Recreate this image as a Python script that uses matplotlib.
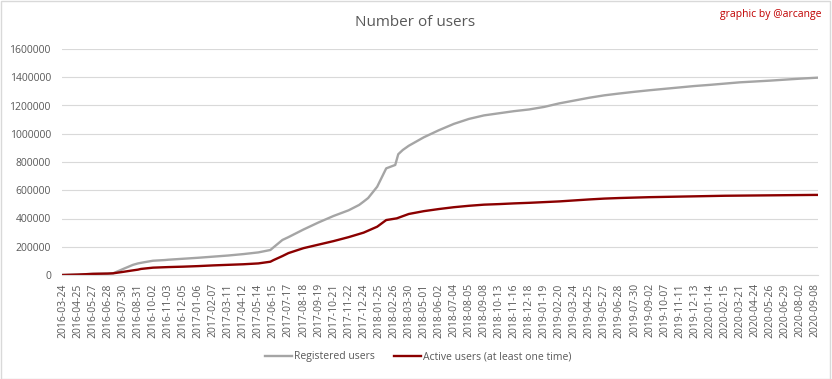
import matplotlib
matplotlib.use("Agg")
import matplotlib.pyplot as plt
from matplotlib.patches import Rectangle

plt.rcParams['font.family'] = ['Open Sans', 'DejaVu Sans']

tick_labels = [
    "2016-03-24", "2016-04-25", "2016-05-27", "2016-06-28", "2016-07-30", "2016-08-31",
    "2016-10-02", "2016-11-03", "2016-12-05", "2017-01-06", "2017-02-07", "2017-03-11",
    "2017-04-12", "2017-05-14", "2017-06-15", "2017-07-17", "2017-08-18", "2017-09-19",
    "2017-10-21", "2017-11-22", "2017-12-24", "2018-01-25", "2018-02-26", "2018-03-30",
    "2018-05-01", "2018-06-02", "2018-07-04", "2018-08-05", "2018-09-08", "2018-10-13",
    "2018-11-16", "2018-12-18", "2019-01-19", "2019-02-20", "2019-03-24", "2019-04-25",
    "2019-05-27", "2019-06-28", "2019-07-30", "2019-09-02", "2019-10-07", "2019-11-11",
    "2019-12-13", "2020-01-14", "2020-02-15", "2020-03-21", "2020-04-24", "2020-05-26",
    "2020-06-29", "2020-08-02", "2020-09-08",
]

# sample positions (in units of tick-label index) and values
reg_pos = [0, 1, 2, 3, 3.35, 4, 4.67, 5, 5.45, 6, 6.8, 7, 8, 9, 10, 11, 12, 13, 13.8, 14, 14.6,
           15, 16, 17, 18, 19, 19.7, 20, 20.3, 20.9, 21.5, 22.1, 22.3, 22.6, 23, 24, 25,
           26, 27, 28, 29, 30, 31, 32, 33, 34, 35, 36, 37, 38, 39, 40, 41, 42, 43, 44, 45,
           46, 47, 48, 49, 50, 50.2]
registered = [0, 3000, 8000, 10000, 12000, 42000, 72000, 82000, 91000, 101000, 106000, 108000,
              115000, 122000, 130000, 138000, 148000, 160000, 177000, 195000, 248000,
              268000, 322000, 372000, 418000, 458000, 496000, 520000, 545000, 625000, 755000,
              779000, 855000, 885000, 915000, 975000, 1025000,
              1070000, 1105000, 1130000, 1145000, 1160000, 1172000, 1190000, 1215000, 1235000,
              1255000, 1272000, 1285000, 1297000, 1308000, 1318000, 1328000, 1338000, 1346000,
              1355000, 1364000, 1370000, 1376000, 1383000, 1390000, 1396000, 1397000]

act_pos = [0, 1, 2, 3, 3.35, 4, 4.55, 5, 5.2, 6, 7, 8, 9, 10, 11, 12, 13, 13.8, 14, 14.6, 15, 16,
           17, 18, 19, 20, 20.9, 21.5, 22.2, 23, 24, 25, 26, 27, 28, 29, 30, 31, 32, 33, 34,
           35, 36, 37, 38, 39, 40, 41, 42, 43, 44, 45, 46, 47, 48, 49, 50, 50.2]
active = [0, 3000, 8000, 10000, 12000, 22000, 31000, 38000, 43000, 52000, 56000, 59000, 63000,
          68000, 72000, 76000, 82000, 94000, 105000, 134000, 155000, 190000,
          215000, 240000, 268000, 300000, 342000, 389000, 401000, 432000, 452000, 467000,
          480000, 490000, 498000, 502000, 507000, 511000, 516000, 521000, 528000,
          535000, 541000, 545000, 548000, 551000, 553000, 555000, 557000, 559000, 561000,
          562000, 563000, 564000, 565000, 566000, 567000, 567000]

TXT = '#595959'

fig = plt.figure(figsize=(8.32, 3.79), dpi=100)
fig.patches.append(Rectangle((0.001, 0.001), 0.997, 0.996, transform=fig.transFigure,
                             fill=False, edgecolor='#D9D9D9', linewidth=1.0))
ax = fig.add_axes([62 / 832, 1 - 275 / 379, (818 - 62) / 832, (275 - 49) / 379])

l1, = ax.plot(reg_pos, registered, color='#A5A5A5', lw=1.7, label='Registered users')
l2, = ax.plot(act_pos, active, color='#8B0000', lw=1.7, label='Active users (at least one time)')

ax.set_xlim(-0.05, 50.2)
ax.set_ylim(0, 1600000)
ax.set_yticks(range(0, 1600001, 200000))
ax.set_yticklabels([str(v) for v in range(0, 1600001, 200000)])
ax.set_xticks(range(len(tick_labels)))
ax.set_xticklabels(tick_labels, rotation=90)
ax.tick_params(axis='both', length=0, labelsize=7.5, colors=TXT)
ax.tick_params(axis='x', pad=6)
ax.tick_params(axis='y', pad=8)
ax.grid(axis='y', color='#D9D9D9', lw=0.8)
ax.set_axisbelow(True)
for s in ['top', 'right', 'left']:
    ax.spines[s].set_visible(False)
ax.spines['bottom'].set_color('#D9D9D9')
ax.spines['bottom'].set_linewidth(0.8)

fig.text(415 / 832, 1 - 22 / 379, 'Number of users', ha='center', va='center',
         fontsize=11, color=TXT)
fig.text(821 / 832, 1 - 15 / 379, 'graphic by @arcange', ha='right', va='center',
         fontsize=7.5, color='#C00000')

fig.legend(handles=[l1, l2], loc='center', bbox_to_anchor=(418 / 832, 1 - 357 / 379),
           ncol=2, frameon=False, fontsize=7.5, labelcolor=TXT, handlelength=2.6,
           handletextpad=0.2, columnspacing=1.8)

fig.savefig('out.png', dpi=100)
